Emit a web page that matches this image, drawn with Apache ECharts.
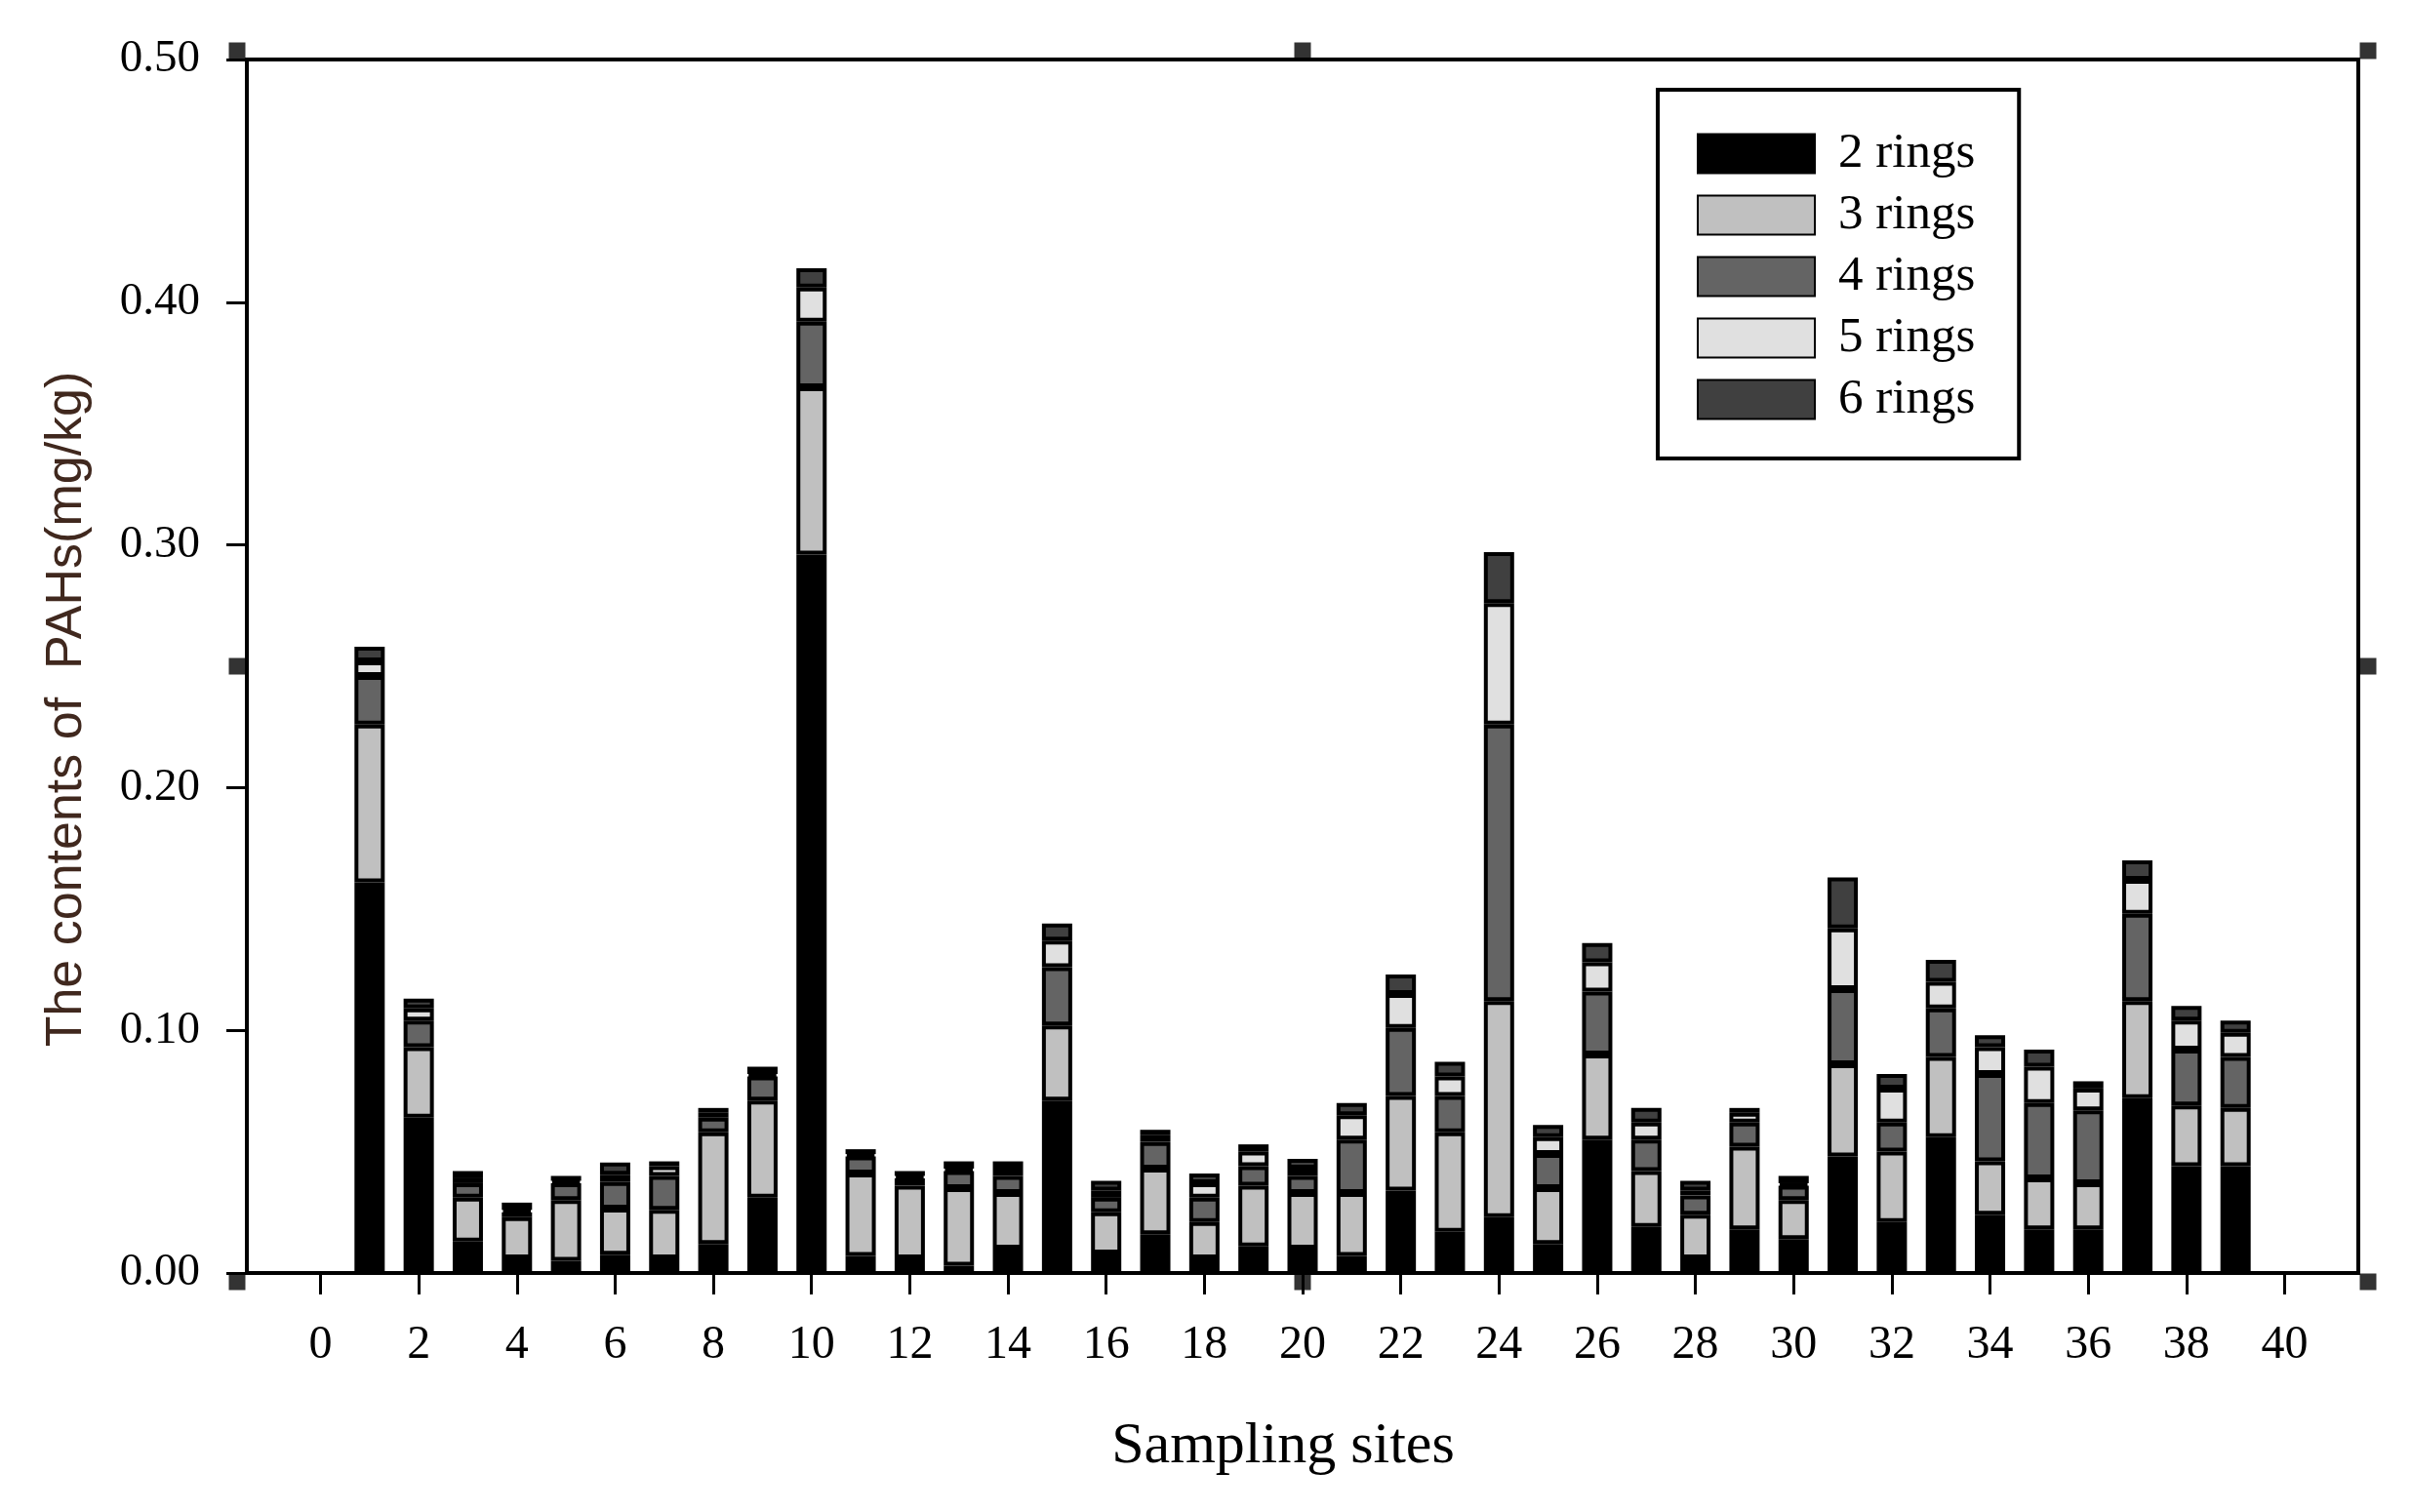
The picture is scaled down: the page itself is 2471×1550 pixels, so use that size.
<!DOCTYPE html>
<html>
<head>
<meta charset="utf-8">
<script src="https://cdn.jsdelivr.net/npm/echarts@6/dist/echarts.min.js"></script>
<style>
html,body{margin:0;padding:0;background:#fff;}
#chart{width:2471px;height:1550px;}
</style>
</head>
<body>
<div id="chart"></div>
<script>
// ---- data ----
const xCategories = ['-1','0','1','2','3','4','5','6','7','8','9','10','11','12','13','14','15','16','17','18','19','20','21','22','23','24','25','26','27','28','29','30','31','32','33','34','35','36','37','38','39','40','41'];
const sites = ['1','2','3','4','5','6','7','8','9','10','11','12','13','14','15','16','17','18','19','20','21','22','23','24','25','26','27','28','29','30','31','32','33','34','35','36','37','38','39'];
const ring2 = [0.161,0.064,0.013,0.006,0.005,0.0075,0.006,0.012,0.031,0.296,0.007,0.006,0.003,0.010,0.071,0.008,0.016,0.006,0.011,0.010,0.007,0.034,0.017,0.023,0.012,0.055,0.019,0.006,0.018,0.014,0.048,0.021,0.056,0.024,0.018,0.018,0.072,0.044,0.044];
const ring3 = [0.065,0.029,0.018,0.017,0.025,0.019,0.020,0.046,0.040,0.069,0.034,0.030,0.032,0.023,0.031,0.017,0.027,0.015,0.025,0.023,0.026,0.039,0.041,0.089,0.023,0.035,0.023,0.018,0.034,0.016,0.038,0.029,0.033,0.022,0.021,0.019,0.040,0.025,0.024];
const ring4 = [0.020,0.011,0.006,0.002,0.007,0.011,0.014,0.006,0.010,0.027,0.007,0.003,0.007,0.007,0.024,0.006,0.011,0.010,0.008,0.007,0.022,0.028,0.015,0.114,0.014,0.026,0.013,0.008,0.010,0.006,0.031,0.012,0.020,0.036,0.031,0.030,0.036,0.023,0.021];
const ring5 = [0.006,0.005,0.002,0.001,0.001,0.003,0.004,0.002,0.001,0.014,0.001,0.001,0.001,0.003,0.011,0.003,0.003,0.006,0.006,0.003,0.010,0.014,0.008,0.050,0.007,0.012,0.007,0.002,0.004,0.001,0.025,0.014,0.011,0.011,0.015,0.009,0.014,0.012,0.010];
const ring6 = [0.006,0.004,0.003,0.003,0.002,0.005,0.002,0.002,0.003,0.008,0.002,0.002,0.003,0.003,0.007,0.004,0.002,0.004,0.003,0.004,0.005,0.008,0.006,0.021,0.005,0.008,0.006,0.004,0.002,0.003,0.021,0.006,0.009,0.005,0.007,0.003,0.008,0.006,0.005];
const seriesNames = ['2 rings','3 rings','4 rings','5 rings','6 rings'];
const xTickLabels = ['0','2','4','6','8','10','12','14','16','18','20','22','24','26','28','30','32','34','36','38','40'];
const yTickMin = 0, yTickMax = 0.5, yTickStep = 0.1;
const frameXMin = -1.5, frameXMax = 41.5;

// ---- styles ----
const fills = ['#000000','#c0c0c0','#646464','#e0e0e0','#404040'];
const serif = '"Liberation Serif","Times New Roman",serif';
const ringData = [ring2, ring3, ring4, ring5, ring6];

const barSeries = ringData.map((arr, k) => ({
  name: seriesNames[k],
  type: 'bar',
  stack: 'total',
  barWidth: 31,
  xAxisIndex: 0,
  data: xCategories.map(c => {
    const i = sites.indexOf(c);
    return i >= 0 ? arr[i] : null;
  }),
  itemStyle: { color: fills[k], borderColor: '#000', borderWidth: 4 },
  emphasis: { disabled: true },
  z: 3
}));

// selection-handle squares around the frame (decoration)
const xMid = (frameXMin + frameXMax) / 2, yMid = (yTickMin + yTickMax) / 2;
const handles = [
  { value: [frameXMin, yTickMax], symbolOffset: [-10, -9] },
  { value: [xMid, yTickMax], symbolOffset: [0, -9] },
  { value: [frameXMax, yTickMax], symbolOffset: [10, -9] },
  { value: [frameXMin, yMid], symbolOffset: [-10, 0] },
  { value: [frameXMax, yMid], symbolOffset: [10, 0] },
  { value: [frameXMin, yTickMin], symbolOffset: [-10, 9] },
  { value: [xMid, yTickMin], symbolOffset: [0, 9] },
  { value: [frameXMax, yTickMin], symbolOffset: [10, 9] }
];

const showTick = (idx, val) => xTickLabels.indexOf(String(val)) >= 0;

const chart = echarts.init(document.getElementById('chart'), null, { renderer: 'canvas' });
chart.setOption({
  backgroundColor: '#ffffff',
  animation: false,
  grid: {
    left: 253, right: 54, top: 61, bottom: 245,
    show: true, borderColor: '#000', borderWidth: 4, backgroundColor: 'transparent',
    outerBoundsMode: 'none'
  },
  legend: {
    data: seriesNames,
    orient: 'vertical',
    left: 1699, top: 92,
    padding: [40, 45, 35, 40],
    itemWidth: 120, itemHeight: 40, itemGap: 12,
    icon: 'rect',
    borderColor: '#000', borderWidth: 4,
    backgroundColor: '#fff',
    textStyle: { fontFamily: serif, fontSize: 51, color: '#000', padding: [0, 0, 0, 19] }
  },
  xAxis: [{
    type: 'category',
    data: xCategories,
    boundaryGap: true,
    name: 'Sampling sites',
    nameLocation: 'middle',
    nameGap: 148,
    nameTextStyle: { fontFamily: serif, fontSize: 60, color: '#000', padding: [0, 40, 0, 0] },
    axisLine: { show: true, onZero: false, lineStyle: { color: '#000', width: 4 } },
    axisTick: { show: true, inside: false, alignWithLabel: true, length: 22, interval: showTick, lineStyle: { color: '#000', width: 3 } },
    axisLabel: { fontFamily: serif, fontSize: 48, color: '#000', margin: 50, interval: showTick },
    splitLine: { show: false }
  }, {
    type: 'value',
    min: frameXMin, max: frameXMax,
    show: false
  }],
  yAxis: {
    type: 'value',
    min: yTickMin, max: yTickMax, interval: yTickStep,
    name: 'The contents of  PAHs(mg/kg)',
    nameLocation: 'middle',
    nameGap: 158,
    nameTextStyle: { fontFamily: '"Liberation Sans",Arial,sans-serif', fontSize: 52, color: '#40281e', padding: [0, 88, 0, 0] },
    axisLine: { show: true, onZero: false, lineStyle: { color: '#000', width: 4 } },
    axisTick: { show: true, inside: false, length: 21, lineStyle: { color: '#000', width: 3 } },
    axisLabel: { fontFamily: serif, fontSize: 47, color: '#000', margin: 48, formatter: v => v.toFixed(2) },
    splitLine: { show: false }
  },
  series: barSeries.concat([{
    type: 'scatter',
    xAxisIndex: 1,
    data: handles,
    symbol: 'rect',
    symbolSize: 17,
    clip: false,
    silent: true,
    itemStyle: { color: '#000' },
    z: 10
  }])
});
</script>
</body>
</html>
